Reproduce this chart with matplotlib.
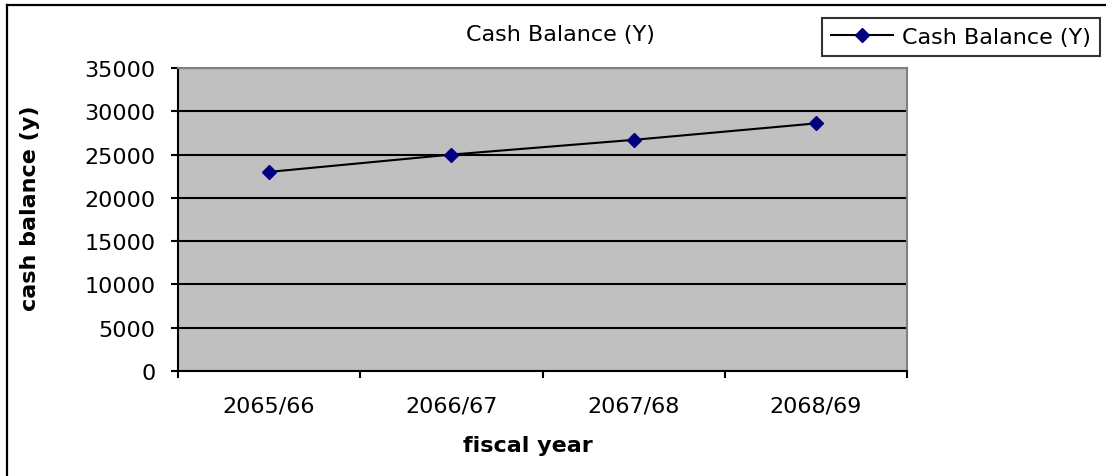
import matplotlib
matplotlib.use("Agg")
import matplotlib.pyplot as plt
from matplotlib.lines import Line2D

# Cash balance by fiscal year
fiscal_years = ["2065/66", "2066/67", "2067/68", "2068/69"]
cash_balance = [23000, 25000, 26700, 28600]
y_ticks = [0, 5000, 10000, 15000, 20000, 25000, 30000, 35000]

plt.rcParams["font.family"] = ["DejaVu Sans"]
FS = 16

W, H = 1106, 477
fig = plt.figure(figsize=(W / 100, H / 100), dpi=100)
fig.patch.set_facecolor("white")

# plot area in pixel bounds
left, right, top, bottom = 178, 907, 69, 372
ax = fig.add_axes([left / W, 1 - bottom / H, (right - left) / W, (bottom - top) / H])
ax.set_facecolor("#c0c0c0")

x = list(range(len(fiscal_years)))
ax.plot(x, cash_balance, color="black", lw=1.5, marker="D", ms=7,
        mfc="#000080", mec="#000080", label="Cash Balance (Y)", zorder=3)

ax.set_xlim(-0.5, len(fiscal_years) - 0.5)
ax.set_ylim(0, 35000)
ax.set_yticks(y_ticks)
ax.set_yticklabels([str(v) for v in y_ticks], fontsize=FS)
ax.yaxis.grid(True, color="black", lw=1.5)
ax.set_axisbelow(True)

ax.set_xticks(x)
ax.set_xticklabels(fiscal_years, fontsize=FS)
ax.set_xticks([i - 0.5 for i in range(len(fiscal_years) + 1)], minor=True)
ax.tick_params(axis="x", which="major", length=0, pad=18)
ax.tick_params(axis="x", which="minor", length=5, width=1.5, direction="out")
ax.tick_params(axis="y", length=5, width=1.5, direction="out", pad=11)

for side in ("left", "bottom"):
    ax.spines[side].set_color("black")
    ax.spines[side].set_linewidth(1.5)
for side in ("top", "right"):
    ax.spines[side].set_color("#808080")
    ax.spines[side].set_linewidth(1.5)

ax.set_ylabel("cash balance (y)", fontsize=FS, fontweight="bold", va="center")
ax.yaxis.set_label_coords(-0.203, 0.54)
ax.set_xlabel("fiscal year", fontsize=FS, fontweight="bold", va="center")
ax.xaxis.set_label_coords(0.48, -0.244)

ax.text(0.524, 1.112, "Cash Balance (Y)", transform=ax.transAxes,
        ha="center", va="center", fontsize=FS)

leg = ax.legend(loc="upper right", bbox_to_anchor=(1100 / W, 1 - 19 / H),
                bbox_transform=fig.transFigure, borderaxespad=0,
                fontsize=FS, fancybox=False, frameon=True, handlelength=2.8,
                handletextpad=0.4, borderpad=0.4)
leg.get_frame().set_edgecolor("black")
leg.get_frame().set_linewidth(1.5)

# outer chart frame (top and left edges)
fig.add_artist(Line2D([7 / W, 1.0], [1 - 6 / H, 1 - 6 / H],
                      transform=fig.transFigure, color="black", lw=1.6))
fig.add_artist(Line2D([7 / W, 7 / W], [1 - 6 / H, 0.0],
                      transform=fig.transFigure, color="black", lw=1.6))

fig.savefig("out.png", dpi=100)
